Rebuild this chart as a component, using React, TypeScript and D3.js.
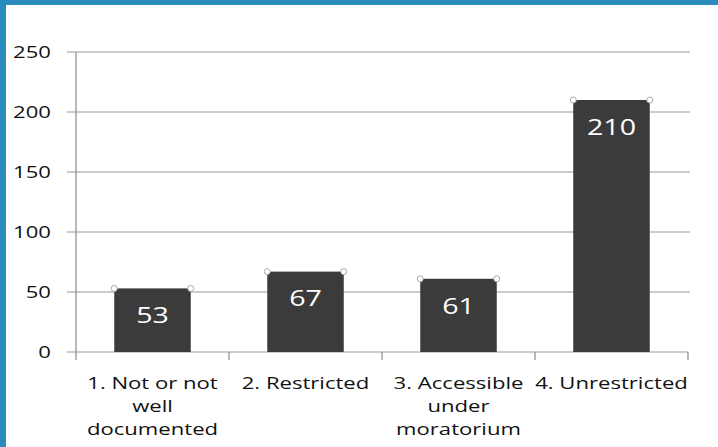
import React from "react";
import * as d3 from "d3";

const categories = ["1. Not or not well documented", "2. Restricted", "3. Accessible under moratorium", "4. Unrestricted"];
const labelLines = [["1. Not or not", "well", "documented"], ["2. Restricted"], ["3. Accessible", "under", "moratorium"], ["4. Unrestricted"]];
const values = [53, 67, 61, 210];
const yTicks = [0, 50, 100, 150, 200, 250];

const SX = 1.3;

function T(props: { x: number; y: number; anchor: string; size: number; fill: string; children: React.ReactNode; dy?: string }) {
  return (
    <text
      transform={`translate(${props.x},${props.y}) scale(${SX},1)`}
      dy={props.dy}
      textAnchor={props.anchor}
      fontFamily="'Open Sans', 'Noto Sans', sans-serif"
      fontSize={props.size}
      fill={props.fill}
    >
      {props.children}
    </text>
  );
}

export default function App() {
  const W = 718, H = 447;
  const x0 = 76, x1 = 688, yTop = 52, yBot = 352;
  const x = d3.scaleBand<string>().domain(categories).range([x0, x1]).paddingInner(0.5).paddingOuter(0.25);
  const xb = d3.scaleBand<string>().domain(categories).range([x0, x1]);
  const y = d3.scaleLinear().domain([0, 250]).range([yBot, yTop]);
  return (
    <svg width={W} height={H} style={{ position: "absolute", left: 0, top: 0, background: "#fff" }}>
      <rect x={0} y={0} width={W} height={H} fill="#fff" />
      <rect x={0} y={0} width={W} height={5} fill="#2a8bbd" />
      <rect x={0} y={0} width={6} height={H} fill="#2a8bbd" />
      {yTicks.map((t) => (
        <g key={t}>
          <line x1={67} x2={t === 0 ? x1 : 690} y1={y(t)} y2={y(t)} stroke="#9a9a9a" strokeWidth={1.2} />
          <T x={51} y={y(t)} dy="0.35em" anchor="end" size={17} fill="#111">{t}</T>
        </g>
      ))}
      <line x1={x0} x2={x0} y1={yTop} y2={yBot + 8} stroke="#8a8a8a" strokeWidth={1.2} />
      {categories.map((c) => (
        <line key={c} x1={xb(c)! + xb.bandwidth()} x2={xb(c)! + xb.bandwidth()} y1={yBot} y2={yBot + 8} stroke="#8a8a8a" strokeWidth={1.2} />
      ))}
      {categories.map((c, i) => {
        const bx = x(c)!, bw = x.bandwidth(), by = y(values[i]);
        return (
          <g key={c}>
            <rect x={bx} y={by} width={bw} height={yBot - by} fill="#3b3b3b" />
            <circle cx={bx} cy={by} r={3} fill="#fff" stroke="#aaa" strokeWidth={1} />
            <circle cx={bx + bw} cy={by} r={3} fill="#fff" stroke="#aaa" strokeWidth={1} />
            <T x={bx + bw / 2} y={by + 27} dy="0.35em" anchor="middle" size={22} fill="#fff">{values[i]}</T>
            {labelLines[i].map((ln, j) => (
              <T key={j} x={xb(c)! + xb.bandwidth() / 2} y={389 + j * 23} anchor="middle" size={17} fill="#111">{ln}</T>
            ))}
          </g>
        );
      })}
    </svg>
  );
}
